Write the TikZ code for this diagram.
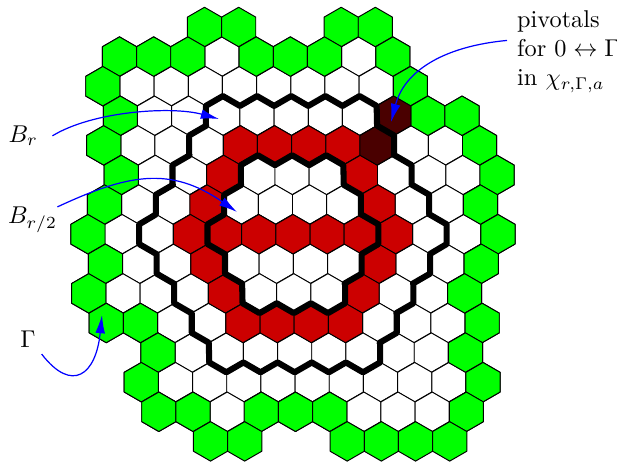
\documentclass[tikz,border=0pt]{standalone}
\usepackage{amsmath,amssymb}
\usepackage{xcolor}
\usepackage{tikz}
\usetikzlibrary{arrows.meta, positioning}
\usetikzlibrary{calc}

\definecolor{cellred}{RGB}{204,0,0}
\definecolor{pivred}{RGB}{74,0,0}
\newcommand{\hexside}{8.119pt}
\newcommand{\hexcell}[3]{%
  \filldraw[hexline,fill=#3] (#1,#2) +(30:\hexside) -- +(90:\hexside) -- +(150:\hexside)
    -- +(210:\hexside) -- +(270:\hexside) -- +(330:\hexside) -- cycle;}

\begin{document}
\begin{tikzpicture}[x=0.4115pt, y=-0.4115pt,
    hexline/.style={draw=black, line width=0.4pt, line join=round},
    ballline/.style={black, line width=2.5pt, line join=round},
    lbl/.style={inner sep=0pt, anchor=base},
    ptr/.style={blue, line width=0.5pt, -{Latex[length=7.5pt,width=4pt]}}]
\useasboundingbox (0,0) rectangle (617,462);

\begin{scope}[shift={(204.5,27)}, x={(14.061pt,0pt)}, y={(0.177pt,-12.18pt)}]
  % all cells white first
  \foreach \r/\a/\b in {1/-2.5/5.5, 2/-3/6, 3/-2.5/7.5, 4/-3/8, 5/-2.5/8.5, 6/-3/8,
      7/-3.5/8.5, 8/-3/8, 9/-3.5/7.5, 10/-3/8, 11/-1.5/7.5, 12/-2/8, 13/-1.5/7.5} {
    \foreach \c in {\a,...,\b} {\hexcell{\c}{\r}{white}}
  }
  % Gamma
  \foreach \r/\cs in {0/{0,1,4,5}, 1/{-2.5,-1.5,-0.5,1.5,2.5,3.5,5.5}, 2/{-3,6},
      3/{-2.5,6.5,7.5}, 4/{-3,8}, 5/{-2.5,8.5}, 6/{-3,8}, 7/{-3.5,8.5}, 8/{-3,8},
      9/{-3.5,7.5}, 10/{-3,-2,8}, 11/{-1.5,7.5}, 12/{-2,8},
      13/{-1.5,-0.5,1.5,2.5,3.5,7.5}, 14/{0,1,4,5,6,7}} {
    \foreach \c in \cs {\hexcell{\c}{\r}{green}}
  }
  % red cells
  \foreach \r/\cs in {4/{1,2,3,4}, 5/{0.5,4.5}, 6/{0,5}, 7/{-0.5,0.5,1.5,2.5,3.5,4.5,5.5},
      8/{0,5}, 9/{0.5,4.5}, 10/{1,2,3,4}} {
    \foreach \c in \cs {\hexcell{\c}{\r}{cellred}}
  }
  % pivotals
  \hexcell{5.5}{3}{pivred}
  \hexcell{5}{4}{pivred}
  % B_r and B_{r/2}
  \foreach \R in {4,2} {
    \draw[ballline] ($({2.5+\R},7)+(-30:\hexside)$)
      \foreach \k/\dc/\dr/\ec/\er in {0/1/0/-0.5/-1, 1/0.5/-1/-1/0, 2/-0.5/-1/-0.5/1,
          3/-1/0/0.5/1, 4/-0.5/1/1/0, 5/0.5/1/0.5/-1} {
        \foreach \j in {1,...,\R} {
          -- ($({2.5+\R*\dc+(\j-1)*\ec},{7+\R*\dr+(\j-1)*\er})+(60*\k-30:\hexside)$)
          -- ($({2.5+\R*\dc+(\j-1)*\ec},{7+\R*\dr+(\j-1)*\er})+(60*\k+30:\hexside)$)
          -- ($({2.5+\R*\dc+(\j-1)*\ec},{7+\R*\dr+(\j-1)*\er})+(60*\k+90:\hexside)$)
        }
      } -- cycle;
  }
\end{scope}

\node[lbl, outer sep=6pt] (br) at (23.3,142.3) {$B_r$};
\node[lbl] (brh) at (32.5,224) {$B_{r/2}$};
\node[lbl, outer sep=2.5pt] (g) at (28,348) {$\Gamma$};
\node[lbl, align=left, anchor=north west, inner sep=4pt] (piv) at (507,0)
  {pivotals\\ for $0\leftrightarrow\Gamma$\\ in $\chi_{r,\Gamma,a}$};

\coordinate (brtip) at (219,119);
\coordinate (brhtip) at (237,212);
\coordinate (gtip) at (102,315);
\coordinate (pivtip) at (391,122);

\draw[ptr] (br.east) .. controls (93,111) and (172,106) .. (brtip);
\draw[ptr] (brh.north east) .. controls (127,174.5) and (170,165.5) .. (brhtip);
\draw[ptr] (g.south east) .. controls (72,393.5) and (96,375) .. (gtip);
\draw[ptr] (piv.170) .. controls (447,46) and (405,69) .. (pivtip);
\end{tikzpicture}
\end{document}
